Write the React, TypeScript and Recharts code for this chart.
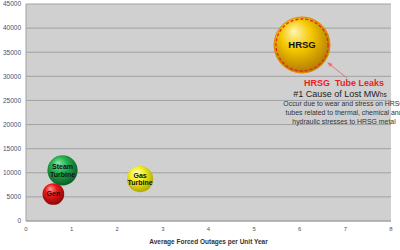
import { ScatterChart, Scatter, XAxis, YAxis, ZAxis, CartesianGrid } from 'recharts';

const names = ['Steam Turbine', 'Gen', 'Gas Turbine', 'HRSG'];
const outages = [0.8, 0.6, 2.5, 6.05];
const lostMWh = [10500, 5600, 8700, 36500];
const bubbleSize = [2.9, 1.5, 2.2, 10];
const xTicks = [0, 1, 2, 3, 4, 5, 6, 7, 8];
const yTicks = [0, 5000, 10000, 15000, 20000, 25000, 30000, 35000, 40000, 45000];

const data = names.map((name, i) => ({ name, x: outages[i], y: lostMWh[i], z: bubbleSize[i] }));

const gradientIds: Record<string, string> = {
  'Steam Turbine': 'gGreen',
  Gen: 'gRed',
  'Gas Turbine': 'gYellow',
  HRSG: 'gGold',
};

const font = '"Liberation Sans", Arial, sans-serif';

function Bubble(props: any) {
  const { cx, cy, width, payload } = props;
  const r = width / 2;
  const isBig = payload.name === 'HRSG';
  const lines = isBig ? [payload.name] : payload.name.split(' ');
  const fs = isBig ? 9.5 : 7;
  const lh = fs * 1.1;
  const top = cy - ((lines.length - 1) * lh) / 2;
  return (
    <g>
      <circle cx={cx} cy={cy} r={r} fill={`url(#${gradientIds[payload.name]})`} stroke={isBig ? '#e08a00' : 'none'} strokeWidth={1} />
      {isBig && (
        <circle cx={cx} cy={cy} r={r - 2} fill="none" stroke="#e8262a" strokeWidth={1.3} strokeDasharray="3 2" />
      )}
      {lines.map((t: string, i: number) => (
        <text key={i} x={cx} y={top + i * lh} textAnchor="middle" dominantBaseline="central" fontFamily={font} fontWeight="bold" fontSize={fs} fill="#111">
          {t}
        </text>
      ))}
      {isBig && (
        <g fontFamily={font}>
          <line x1={cx + 45} y1={cy + 33} x2={cx + 26} y2={cy + 18} stroke="#e8707a" strokeWidth={1} />
          <polygon points={`${cx + 25},${cy + 17} ${cx + 30.5},${cy + 19} ${cx + 28},${cy + 22}`} fill="#e8707a" />
          <text x={cx + 42} y={cy + 38} textAnchor="middle" dominantBaseline="central" fontSize={9} fontWeight="bold" fill="#ee1c25" style={{ whiteSpace: 'pre' }}>
            {'HRSG  Tube Leaks'}
          </text>
          <text x={cx + 38} y={cy + 49} textAnchor="middle" dominantBaseline="central" fontSize={9} fill="#222">
            #1 Cause of Lost MW<tspan fontSize={6.5}>hs</tspan>
          </text>
          <text x={cx + 42} y={cy + 58.5} textAnchor="middle" dominantBaseline="central" fontSize={6.9} fill="#333">
            Occur due to wear and stress on HRSG
          </text>
          <text x={cx + 42} y={cy + 67.5} textAnchor="middle" dominantBaseline="central" fontSize={6.9} fill="#333">
            tubes related to thermal, chemical and
          </text>
          <text x={cx + 42} y={cy + 76.5} textAnchor="middle" dominantBaseline="central" fontSize={6.9} fill="#333">
            hydraulic stresses to HRSG metal
          </text>
        </g>
      )}
    </g>
  );
}

export default function App() {
  return (
    <div style={{ position: 'absolute', left: 0, top: 0, background: '#fff' }}>
      <ScatterChart width={400} height={250} margin={{ top: 4, right: 9, bottom: 0, left: 0 }}>
        <defs>
          <radialGradient id="gGreen" cx="45%" cy="40%" r="60%" fx="35%" fy="25%">
            <stop offset="0%" stopColor="#8fe3a6" />
            <stop offset="45%" stopColor="#22b04e" />
            <stop offset="100%" stopColor="#0a5e27" />
          </radialGradient>
          <radialGradient id="gRed" cx="45%" cy="40%" r="60%" fx="35%" fy="25%">
            <stop offset="0%" stopColor="#ff9a9a" />
            <stop offset="45%" stopColor="#e81818" />
            <stop offset="100%" stopColor="#8e0606" />
          </radialGradient>
          <radialGradient id="gYellow" cx="45%" cy="40%" r="60%" fx="35%" fy="25%">
            <stop offset="0%" stopColor="#ffffc8" />
            <stop offset="45%" stopColor="#f4f01e" />
            <stop offset="100%" stopColor="#b2a800" />
          </radialGradient>
          <radialGradient id="gGold" cx="45%" cy="40%" r="60%" fx="35%" fy="25%">
            <stop offset="0%" stopColor="#fff6b0" />
            <stop offset="45%" stopColor="#f5c800" />
            <stop offset="100%" stopColor="#b27a00" />
          </radialGradient>
        </defs>
        <CartesianGrid vertical={false} stroke="#a2a2a2" fill="#d0d0d0" fillOpacity={1} />
        <XAxis
          type="number"
          dataKey="x"
          domain={[0, 8]}
          ticks={xTicks}
          interval={0}
          height={29}
          tickLine={false}
          tickSize={0}
          tickMargin={6}
          axisLine={{ stroke: '#a2a2a2' }}
          tick={{ fontSize: 6, fill: '#555', fontFamily: '"Liberation Sans Narrow", "Liberation Sans", sans-serif' }}
          label={{
            value: 'Average Forced Outages per Unit Year',
            position: 'insideBottom',
            offset: 6,
            fontSize: 6.5,
            fontWeight: 'bold',
            fill: '#333',
            fontFamily: '"Liberation Sans Narrow", "Liberation Sans", sans-serif',
          }}
        />
        <YAxis
          type="number"
          dataKey="y"
          domain={[0, 45000]}
          ticks={yTicks}
          interval={0}
          width={26}
          tickLine={false}
          tickSize={0}
          tickMargin={5}
          axisLine={{ stroke: '#a2a2a2' }}
          tick={{ fontSize: 6.5, fill: '#45507a', fontFamily: font }}
        />
        <ZAxis type="number" dataKey="z" domain={[0, 10]} range={[0, 2463]} />
        <Scatter data={data} shape={Bubble} isAnimationActive={false} />
      </ScatterChart>
    </div>
  );
}
